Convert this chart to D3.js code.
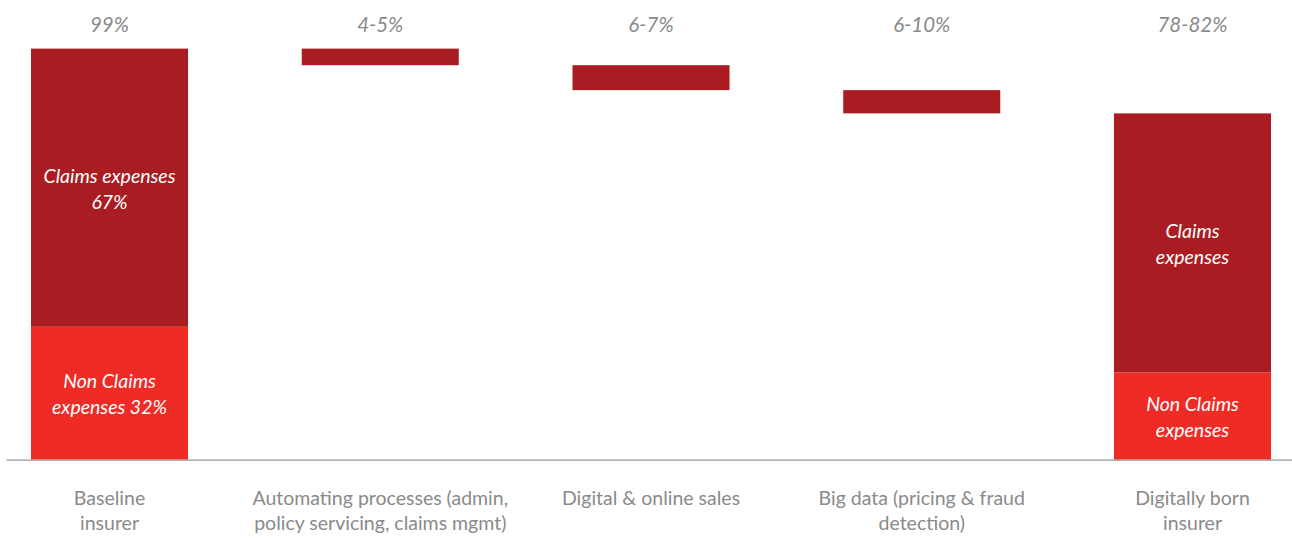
<!DOCTYPE html>
<html>
<head>
<meta charset="utf-8">
<script src="https://cdn.jsdelivr.net/npm/d3@7"></script>
<style>
  html, body { margin: 0; padding: 0; background: #fff; }
  svg { display: block; }
  text { font-family: Lato, "Open Sans", sans-serif; }
</style>
</head>
<body>
<svg id="chart" width="1292" height="538"></svg>
<script>
// Cost-ratio waterfall: baseline insurer -> savings levers -> digitally born insurer
const categories = ["baseline", "automating", "digital", "bigdata", "digitallyBorn"];
const categoryLines = [
  ["Baseline", "insurer"],
  ["Automating processes (admin,", "policy servicing, claims mgmt)"],
  ["Digital & online sales"],
  ["Big data (pricing & fraud", "detection)"],
  ["Digitally born", "insurer"]
];
const rangeLabels = ["99%", "4-5%", "6-7%", "6-10%", "78-82%"];

// Baseline insurer split (% of premium)
const baselineClaims = 67;
const baselineNonClaims = 32;
// Reductions delivered by each lever
const savings = [4, 6, 5.6];
// Digitally born insurer: non-claims part
const bornNonClaims = 21;

const segmentLabels = {
  baselineClaims: ["Claims expenses", "67%"],
  baselineNonClaims: ["Non Claims", "expenses 32%"],
  bornClaims: ["Claims", "expenses"],
  bornNonClaims: ["Non Claims", "expenses"]
};

const darkRed = "#A91D22";
const brightRed = "#EE2B25";
const grey = "#8a8a8a";

const svg = d3.select("#chart");

const x = d3.scaleBand()
  .domain(categories)
  .range([6, 1296])
  .paddingInner(0.42)
  .paddingOuter(0.0923);

const y = d3.scaleLinear().domain([0, 99]).range([459.7, 48.6]);

// Build the segments
const baselineTotal = baselineClaims + baselineNonClaims;
const segments = [];
segments.push({ cat: "baseline", y0: 0, y1: baselineNonClaims, fill: brightRed, label: segmentLabels.baselineNonClaims });
segments.push({ cat: "baseline", y0: baselineNonClaims, y1: baselineTotal, fill: darkRed, label: segmentLabels.baselineClaims });
let level = baselineTotal;
savings.forEach((s, i) => {
  segments.push({ cat: categories[i + 1], y0: level - s, y1: level, fill: darkRed });
  level -= s;
});
const bornTotal = level;
segments.push({ cat: "digitallyBorn", y0: 0, y1: bornNonClaims, fill: brightRed, label: segmentLabels.bornNonClaims });
segments.push({ cat: "digitallyBorn", y0: bornNonClaims, y1: bornTotal, fill: darkRed, label: segmentLabels.bornClaims });

svg.append("g")
  .selectAll("rect")
  .data(segments)
  .join("rect")
  .attr("x", d => x(d.cat))
  .attr("width", x.bandwidth())
  .attr("y", d => y(d.y1))
  .attr("height", d => y(d.y0) - y(d.y1))
  .attr("fill", d => d.fill);

// In-bar labels
const lineH = 26;
svg.append("g")
  .selectAll("text")
  .data(segments.filter(d => d.label))
  .join("text")
  .attr("text-anchor", "middle")
  .attr("font-style", "italic")
  .attr("font-size", 19.5)
  .attr("fill", "#fff")
  .attr("x", d => x(d.cat) + x.bandwidth() / 2)
  .attr("y", d => (y(d.y0) + y(d.y1)) / 2)
  .each(function (d) {
    const t = d3.select(this);
    const n = d.label.length;
    d.label.forEach((ln, i) => {
      t.append("tspan")
        .attr("x", x(d.cat) + x.bandwidth() / 2)
        .attr("dy", i === 0 ? (-(n - 1) / 2 * lineH + 8) : lineH)
        .text(ln);
    });
  });

// Range labels above the chart
svg.append("g")
  .selectAll("text")
  .data(rangeLabels)
  .join("text")
  .attr("text-anchor", "middle")
  .attr("font-style", "italic")
  .attr("font-size", 20.5)
  .attr("fill", grey)
  .attr("x", (d, i) => x(categories[i]) + x.bandwidth() / 2)
  .attr("y", 32)
  .text(d => d);

// Category axis
const axis = svg.append("g")
  .attr("transform", `translate(0,${y(0)})`)
  .call(d3.axisBottom(x).tickSize(0).tickSizeOuter(0).tickFormat(""));
axis.select(".domain").attr("stroke", "#999").attr("stroke-width", 1.3);

axis.selectAll(".tick text").remove();
axis.selectAll(".tick")
  .append("text")
  .attr("text-anchor", "middle")
  .attr("font-size", 19.5)
  .attr("fill", grey)
  .each(function (d, i) {
    const t = d3.select(this);
    categoryLines[i].forEach((ln, j) => {
      t.append("tspan").attr("x", 0).attr("y", 45.5 + j * 25).text(ln);
    });
  });
</script>
</body>
</html>
